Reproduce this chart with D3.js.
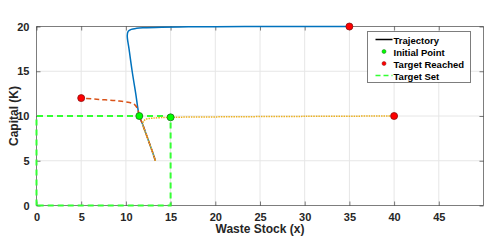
<!DOCTYPE html>
<html><head><meta charset="utf-8">
<script src="https://cdn.jsdelivr.net/npm/d3@7"></script>
<style>body{margin:0;background:#fff}svg{display:block;font-family:"Liberation Sans",Arial,sans-serif}</style>
</head><body><svg id="c" width="488" height="248"></svg>
<script>
const xTicks=[0,5,10,15,20,25,30,35,40,45];
const yTicks=[0,5,10,15,20];
const traj1=[[13.3,5.0],[12.9,6.2],[12.4,7.6],[11.9,9.0],[11.5,10.0],[11.1,12.5],[10.7,15.0],[10.35,17.5],[10.15,19.0],[10.25,19.45],[10.6,19.68],[11.2,19.8],[12,19.86],[14,19.92],[17,19.96],[20,19.98],[25,19.99],[30,20.0],[35,20.0]];
const traj2=[[13.3,5.0],[12.9,6.2],[12.4,7.6],[11.9,9.0],[11.5,10.0],[11.3,10.8],[11.0,11.25],[10.4,11.5],[9,11.7],[7,11.85],[5,12.0]];
const traj3=[[13.3,5.0],[12.9,6.2],[12.4,7.6],[11.9,9.2],[12.2,9.62],[13,9.76],[15,9.85],[20,9.9],[30,9.96],[40,10.0]];
const initialPts=[[11.5,10.0],[15,9.85]];
const targetPts=[[35,20],[5,12],[40,10]];
const targetSet=[[0,0],[0,10],[15,10],[15,0],[0,0]];
const legendLabels=["Trajectory","Initial Point","Target Reached","Target Set"];

const svg=d3.select("#c");
const L=36.5,R=483.5,T=26.5,B=205.5;
const x=d3.scaleLinear().domain([0,50]).range([L,R]);
const y=d3.scaleLinear().domain([0,20]).range([B,T]);
// grid
svg.append("g").selectAll("line").data(xTicks.slice(1)).join("line")
 .attr("x1",d=>x(d)).attr("x2",d=>x(d)).attr("y1",T).attr("y2",B).attr("stroke","#e6e6e6").attr("stroke-width",1);
svg.append("g").selectAll("line").data(yTicks.slice(1,-1)).join("line")
 .attr("y1",d=>y(d)).attr("y2",d=>y(d)).attr("x1",L).attr("x2",R).attr("stroke","#e6e6e6").attr("stroke-width",1);
// axes
const ax=svg.append("g").attr("transform",`translate(0,${B})`).call(d3.axisBottom(x).tickValues(xTicks).tickSize(-4).tickPadding(8));
const ay=svg.append("g").attr("transform",`translate(${L},0)`).call(d3.axisLeft(y).tickValues(yTicks).tickSize(-4).tickPadding(7));
const at=svg.append("g").attr("transform",`translate(0,${T})`).call(d3.axisTop(x).tickValues(xTicks).tickSize(-4).tickFormat(""));
const ar=svg.append("g").attr("transform",`translate(${R},0)`).call(d3.axisRight(y).tickValues(yTicks).tickSize(-4).tickFormat(""));
[ax,ay,at,ar].forEach(g=>{g.select(".domain").attr("stroke","#262626").attr("stroke-opacity",0.6);g.selectAll(".tick line").attr("stroke","#262626").attr("stroke-opacity",0.6);
 g.selectAll("text").attr("font-size",11).attr("font-weight","bold").attr("fill","#262626").attr("font-family","Liberation Sans, Arial, sans-serif");});
ax.select(".domain").attr("d",`M${L},0H${R}`);
at.select(".domain").attr("d",`M${L},0H${R}`);
ay.select(".domain").attr("d",`M0,${T}V${B}`);
ar.select(".domain").attr("d",`M0,${T}V${B}`);
// labels
svg.append("text").attr("x",(L+R)/2).attr("y",233).attr("text-anchor","middle").attr("font-size",12).attr("font-weight","bold").attr("fill","#262626").text("Waste Stock (x)");
svg.append("text").attr("transform",`translate(18,${(T+B)/2}) rotate(-90)`).attr("text-anchor","middle").attr("font-size",12).attr("font-weight","bold").attr("fill","#262626").text("Capital (K)");
const line=d3.line().x(d=>x(d[0])).y(d=>y(d[1])).curve(d3.curveCatmullRom);
// target set
svg.append("path").attr("d",d3.line().x(d=>x(d[0])).y(d=>y(d[1]))(targetSet)).attr("fill","none").attr("stroke","#33ff33").attr("stroke-width",2).attr("stroke-dasharray","6,4");
svg.append("path").attr("d",line(traj1)).attr("fill","none").attr("stroke","#0072BD").attr("stroke-width",1.5);
svg.append("path").attr("d",line(traj2)).attr("fill","none").attr("stroke","#D95319").attr("stroke-width",1.5).attr("stroke-dasharray","5,3");
svg.append("path").attr("d",line(traj3)).attr("fill","none").attr("stroke","#EDB120").attr("stroke-width",1.5).attr("stroke-dasharray","1.5,1");
svg.append("g").selectAll("circle").data(initialPts).join("circle").attr("cx",d=>x(d[0])).attr("cy",d=>y(d[1])).attr("r",3.5).attr("fill","#00ff00").attr("stroke","#1a6e1a").attr("stroke-width",0.8);
svg.append("g").selectAll("circle").data(targetPts).join("circle").attr("cx",d=>x(d[0])).attr("cy",d=>y(d[1])).attr("r",3.5).attr("fill","#ff0000").attr("stroke","#8a1010").attr("stroke-width",0.8);
// legend
const lg=svg.append("g").attr("transform","translate(367.5,31.5)");
lg.append("rect").attr("width",103).attr("height",51).attr("fill","#fff").attr("stroke","#262626").attr("stroke-opacity",0.6);
legendLabels.forEach((t,i)=>{
 const yy=8+i*12;
 const g=lg.append("g").attr("transform",`translate(0,${yy})`);
 if(i===0) g.append("line").attr("x1",8).attr("x2",25).attr("stroke","#000").attr("stroke-width",1.5);
 if(i===1) g.append("circle").attr("cx",16.5).attr("r",2).attr("fill","#00ff00").attr("stroke","#1a6e1a").attr("stroke-width",0.5);
 if(i===2) g.append("circle").attr("cx",16.5).attr("r",2).attr("fill","#ff0000").attr("stroke","#8a1010").attr("stroke-width",0.5);
 if(i===3) g.append("line").attr("x1",8).attr("x2",25).attr("stroke","#33ff33").attr("stroke-width",1.5).attr("stroke-dasharray","5,3");
 g.append("text").attr("x",26).attr("y",4).attr("font-size",9.5).attr("font-weight","bold").attr("fill","#000").text(t);
});
</script></body></html>
